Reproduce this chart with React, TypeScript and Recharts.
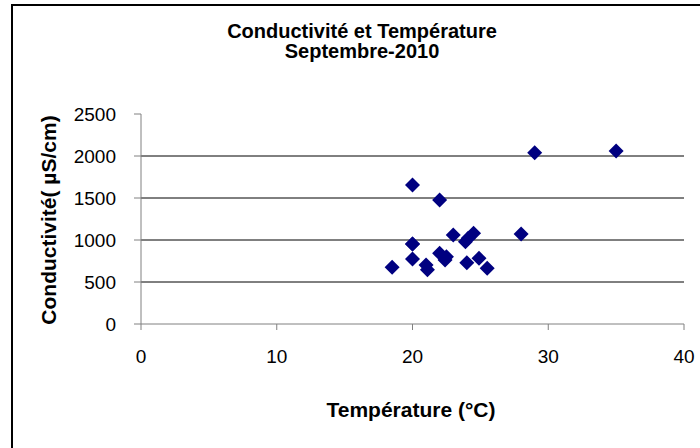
import React from "react";
import { ScatterChart, Scatter, XAxis, YAxis, ReferenceLine } from "recharts";

const temperatures = [18.5, 20, 20, 20, 21, 21.1, 22, 22.5, 22.4, 23, 24, 23.9, 24.1, 24.5, 24.9, 25.5, 22, 20, 28, 29, 35];
const conductivities = [675, 952, 774, 1655, 702, 645, 841, 801, 762, 1060, 730, 980, 1020, 1080, 782, 663, 1476, 952, 1071, 2040, 2060];
const xTicks = [0, 10, 20, 30, 40];
const yTicks = [0, 500, 1000, 1500, 2000, 2500];
const gridValues = [500, 1000, 1500, 2000];

const data = temperatures.map((t, i) => ({ t, c: conductivities[i] }));

const FONT = "'Liberation Sans', Arial, sans-serif";

const Diamond = (props: any) => {
  const { cx, cy } = props;
  const r = 7.5;
  return (
    <polygon
      points={`${cx},${cy - r} ${cx + r},${cy} ${cx},${cy + r} ${cx - r},${cy}`}
      fill="#000080"
    />
  );
};

export default function App() {
  return (
    <div style={{ position: "absolute", left: 0, top: 0, width: 700, height: 448, overflow: "hidden", background: "#fff", fontFamily: FONT }}>
      <div style={{ position: "absolute", left: 11, top: 4, width: 800, height: 600, border: "2px solid #000", boxSizing: "border-box" }} />
      <div style={{ position: "absolute", left: 0, top: 0 }}>
        <ScatterChart width={700} height={448} margin={{ top: 114, right: 16, bottom: 84, left: 81 }}>
          <XAxis
            type="number"
            dataKey="t"
            domain={[0, 40]}
            ticks={xTicks}
            height={40}
            stroke="#808080"
            tickSize={6}
            tickMargin={20}
            tick={{ fill: "#000", fontSize: 19, fontFamily: FONT }}
            allowDataOverflow
          />
          <YAxis
            type="number"
            dataKey="c"
            domain={[0, 2500]}
            ticks={yTicks}
            width={60}
            stroke="#808080"
            tickSize={7}
            tickMargin={18}
            tick={{ fill: "#000", fontSize: 19, fontFamily: FONT }}
            allowDataOverflow
          />
          {gridValues.map((v) => (
            <ReferenceLine key={v} y={v} stroke="#000" strokeWidth={1} ifOverflow="extendDomain" />
          ))}
          <Scatter data={data} shape={<Diamond />} isAnimationActive={false} />
        </ScatterChart>
      </div>
      <div style={{ position: "absolute", left: 0, width: 724, top: 21, textAlign: "center", fontWeight: "bold", fontSize: 20, lineHeight: "20px", color: "#000" }}>
        Conductivité et Température
        <br />
        Septembre-2010
      </div>
      <div style={{ position: "absolute", left: 49, top: 220, transform: "translate(-50%, -50%) rotate(-90deg)", whiteSpace: "nowrap", fontWeight: "bold", fontSize: 21, color: "#000" }}>
        Conductivité( µS/cm)
      </div>
      <div style={{ position: "absolute", left: 411, top: 410, transform: "translate(-50%, -50%)", whiteSpace: "nowrap", fontWeight: "bold", fontSize: 21, color: "#000" }}>
        Température (°C)
      </div>
    </div>
  );
}
